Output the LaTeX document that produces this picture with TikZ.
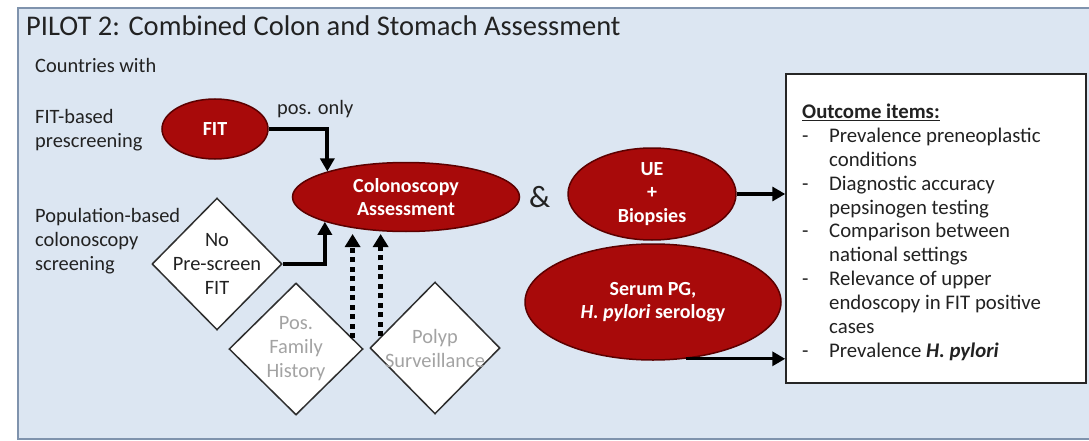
\documentclass[tikz,border=0pt]{standalone}
\usepackage{fontspec}
\setmainfont{Carlito}
\usetikzlibrary{shapes.geometric,arrows.meta,calc}
\definecolor{bgblue}{HTML}{DCE6F2}
\definecolor{framecol}{HTML}{7F93AD}
\definecolor{myred}{HTML}{A80A0A}
\definecolor{darkred}{HTML}{5C0000}
\definecolor{textdark}{HTML}{222222}
\definecolor{textgray}{HTML}{A3A3A3}
\definecolor{diaedge}{HTML}{2E2E2E}
\newcommand\bodyf{\fontsize{20.4}{24}\selectfont}
\newcommand\boxf{\fontsize{20.8}{23.8}\selectfont}
\newcommand\ellf{\fontsize{20}{23.5}\selectfont\bfseries}
\newcommand\titlef{\fontsize{28.5}{32}\selectfont}
\newcommand\ampf{\fontsize{31}{34}\selectfont}
\tikzset{
  redell/.style={ellipse, draw=darkred, line width=1.5pt, fill=myred, text=white, font=\ellf, align=center, inner sep=0pt},
  dia/.style={diamond, draw=diaedge, line width=1.5pt, fill=white, inner sep=0pt},
  diatext/.style={font=\bodyf, align=center, inner sep=0pt},
  lbl/.style={font=\bodyf, text=textdark, inner sep=0pt, anchor=base west},
  arr/.style={line width=4pt, -{Triangle[length=13pt,width=14pt]}},
  arrthin/.style={line width=3.2pt, -{Triangle[length=13pt,width=14pt]}},
  dotarr/.style={line width=5pt, dash pattern=on 5pt off 4.5pt, -{Triangle[length=13pt,width=15pt]}},
  outbox/.style={rectangle, draw=black!85, line width=1.5pt, fill=white, inner sep=0pt}
}
\begin{document}
\begin{tikzpicture}[x=1pt,y=-1pt]
\useasboundingbox (0,0) rectangle (1089,441);
% background frame
\draw[framecol, line width=2pt, fill=bgblue] (18,8) rectangle (1100,439);
% title
\node[anchor=base west, font=\titlef, text=textdark, inner sep=0pt] (title) at (26,36) {PILOT 2: Combined Colon and Stomach Assessment};
% left labels
\node[lbl] (countries) at (35,73) {Countries with};
\node[lbl] (fitbased) at (35,124) {\begin{tabular}[t]{@{}l@{}}FIT-based\\prescreening\end{tabular}};
\node[lbl] (popbased) at (35,222) {\begin{tabular}[t]{@{}l@{}}Population-based\\colonoscopy\\screening\end{tabular}};
% ellipses
\node[redell, minimum width=106pt, minimum height=60pt] (fit) at (215,129) {FIT};
\node[redell, minimum width=227pt, minimum height=69pt] (colo) at (406,197) {Colonoscopy\\Assessment};
\node[redell, minimum width=168pt, minimum height=92pt] (ue) at (652,194) {UE\\+\\Biopsies};
\node[redell, minimum width=256pt, minimum height=116pt] (serum) at (653,302) {Serum PG,\\\textit{H. pylori} serology};
% diamonds
\node[dia, minimum width=130pt, minimum height=132pt] (nops) at (217,264) {};
\node[diatext, text=textdark] (nopstext) at (nops.center) {No\\Pre-screen\\FIT};
\node[dia, minimum width=134pt, minimum height=132pt] (pfam) at (296,349) {};
\node[diatext, text=textgray] (pfamtext) at (pfam.center) {Pos.\\Family\\History};
\node[dia, minimum width=130pt, minimum height=132pt] (polyp) at (435,348) {};
\node[diatext, text=textgray] (polyptext) at (polyp.center) {Polyp\\Surveillance};
% labels
\node[lbl] (posonly) at (277,115) {pos. only};
\node[anchor=base west, font=\ampf, text=textdark, inner sep=0pt] (amp) at (529,207) {\&};
% outcome box
\node[outbox, minimum width=300pt, minimum height=309pt] (box) at (936,228.5) {};
\node[anchor=base west, inner sep=0pt, font=\boxf, text=textdark] (items) at (802,119) {%
\begin{tabular}[t]{@{}l@{}l@{}}
\multicolumn{2}{@{}l@{}}{\textbf{\underline{Outcome items:}}}\\
\makebox[27pt][l]{-} & Prevalence preneoplastic\\
 & conditions\\
\makebox[27pt][l]{-} & Diagnostic accuracy\\
 & pepsinogen testing\\
\makebox[27pt][l]{-} & Comparison between\\
 & national settings\\
\makebox[27pt][l]{-} & Relevance of upper\\
 & endoscopy in FIT positive\\
 & cases\\
\makebox[27pt][l]{-} & Prevalence \textbf{\textit{H. pylori}}
\end{tabular}};
% connectors
\coordinate (dtop) at (0,234);
\draw[arr] (fit.east) -| (colo.162.5);
\draw[arr] (nops.east) -| (colo.197.5);
\draw[dotarr] (pfam.11) -- (pfam.11 |- dtop);
\draw[dotarr] (polyp.168.5) -- (polyp.168.5 |- dtop);
\draw[arrthin] (ue.east) -- (ue.east -| box.west);
\draw[arrthin] (serum.-60) -- (serum.-60 -| box.west);
\end{tikzpicture}
\end{document}
